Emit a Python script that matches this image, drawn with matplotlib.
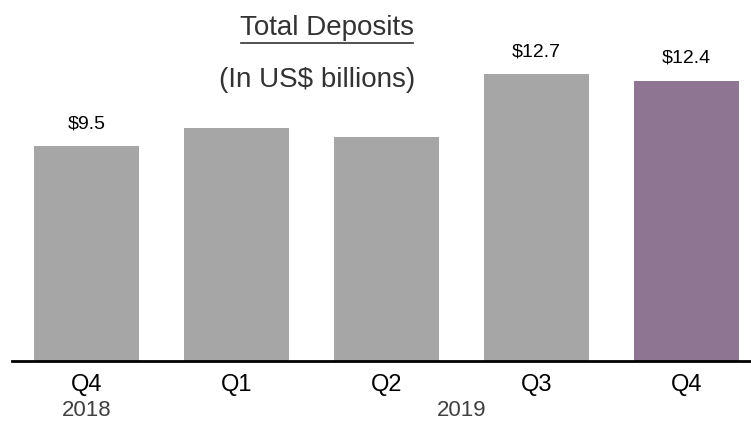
import matplotlib.pyplot as plt
from matplotlib import font_manager

quarters = ["Q4", "Q1", "Q2", "Q3", "Q4"]
years = ["2018", "2019"]
deposits = [9.5, 10.3, 9.9, 12.7, 12.4]
value_labels = ["$9.5", "", "", "$12.7", "$12.4"]
bar_colors = ["#A6A6A6", "#A6A6A6", "#A6A6A6", "#A6A6A6", "#8E7592"]

# narrow font if available
names = {f.name for f in font_manager.fontManager.ttflist}
fam = ["Liberation Sans Narrow", "Liberation Sans", "DejaVu Sans"]
fam = [f for f in fam if f in names] or ["DejaVu Sans"]
plt.rcParams['font.family'] = fam

fig = plt.figure(figsize=(7.51, 4.43), dpi=100)
ax = fig.add_axes([12 / 751, 82 / 443, 739 / 751, 361 / 443])

x = list(range(len(deposits)))
ax.bar(x, deposits, width=0.7, color=bar_colors)

for i, (v, lab) in enumerate(zip(deposits, value_labels)):
    if lab:
        ax.text(i, v + 0.6, lab, ha='center', va='bottom', fontsize=14, color='black')

ax.set_xlim(-0.497, 4.43)
ax.set_ylim(0, 15.96)
for s in ["top", "right", "left"]:
    ax.spines[s].set_visible(False)
ax.spines["bottom"].set_linewidth(2)
ax.set_yticks([])
ax.set_xticks(x)
ax.set_xticklabels(quarters, fontsize=17)
ax.tick_params(axis='x', length=0, pad=9)

# year labels
ax.text(0, -2.2, years[0], ha='center', va='center', fontsize=16, color='#404040',
        clip_on=False)
ax.text(2.5, -2.2, years[1], ha='center', va='center', fontsize=16, color='#404040',
        clip_on=False)

# title and subtitle
fig.text(327 / 751, 1 - 28 / 443, "Total Deposits", ha='center', va='center',
         fontsize=20, color='#333333')
fig.add_artist(plt.Line2D([241 / 751, 413 / 751], [1 - 43 / 443, 1 - 43 / 443],
                          color='#333333', linewidth=1.2))
fig.text(317 / 751, 1 - 80 / 443, "(In US$ billions)", ha='center', va='center',
         fontsize=20, color='#333333')

fig.savefig("out.png", dpi=100)
